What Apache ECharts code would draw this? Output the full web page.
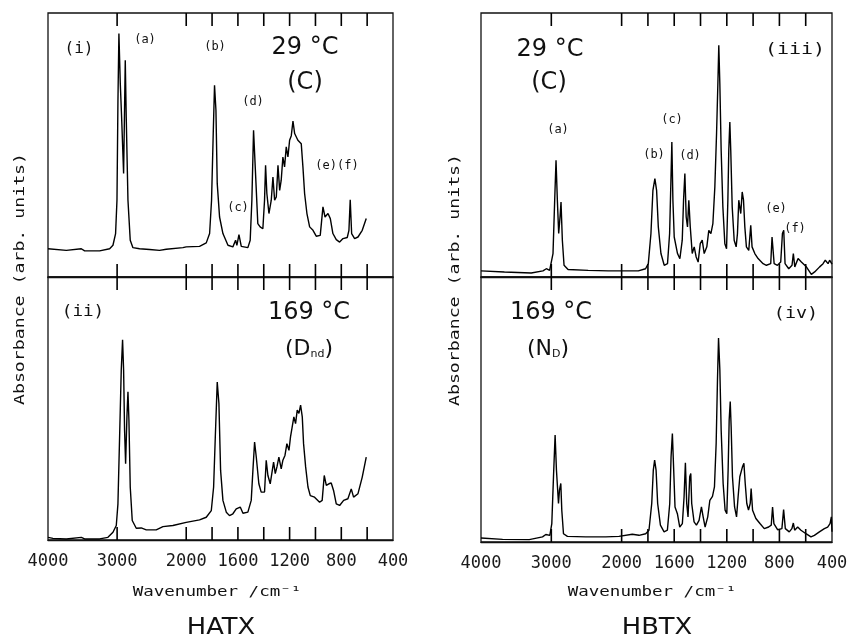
<!DOCTYPE html>
<html>
<head>
<meta charset="utf-8">
<script src="https://cdn.jsdelivr.net/npm/echarts@6/dist/echarts.min.js"></script>
<style>html,body{margin:0;padding:0;background:#fff}#c{width:851px;height:639px}</style>
</head>
<body>
<div id="c"></div>
<script>
// ---- data (wavenumber /cm-1, absorbance arb. units) ----
const iW = [4000,3735,3518,3470,3253,3108,3060,3022,3002,2988,2974,2954,2935,2906,2882,2868,2843,2810,2771,2675,2530,2386,2289,2048,2000,1897,1845,1819,1804,1791,1781,1770,1760,1742,1716,1677,1639,1618,1608,1592,1574,1523,1505,1492,1479,1466,1446,1428,1407,1394,1386,1376,1360,1342,1329,1316,1303,1290,1277,1265,1252,1239,1226,1213,1200,1187,1174,1161,1148,1136,1123,1110,1097,1084,1066,1045,1019,994,963,942,926,903,885,865,839,813,787,754,741,731,720,697,671,638,607];
const iA = [10.6,10,10.6,9.8,9.8,10.6,11.9,16.3,28.8,66,91.3,72.5,60,38.8,81.3,60,28.8,13.8,11,10.6,10.3,10,10.4,11,11.3,11.5,12.8,16.3,28.8,53.8,71.9,62.5,35,22.5,16.3,11.9,11.3,13.8,11.9,15.9,11.5,11,13.8,28.8,55,41.3,20,18.8,18.1,28.8,41.9,31.3,23.8,28.8,37.5,28.8,30,41.9,32.5,36.3,45,41.3,48.8,45,51.3,53,58.5,53.8,54.4,51.3,50.6,50,41.3,31.3,23.8,18.8,17.5,15.3,15.6,26.3,22.5,23.8,21.9,16.3,14,13.1,14.4,14.8,17.5,29,16.3,14.4,15,17.5,21.9];

const iiW = [4000,3928,3735,3518,3470,3253,3133,3060,3012,2988,2964,2940,2921,2906,2892,2877,2858,2843,2829,2810,2781,2723,2651,2578,2434,2337,2193,2000,1897,1845,1806,1788,1775,1760,1747,1734,1716,1690,1665,1639,1613,1600,1582,1561,1523,1497,1484,1471,1458,1438,1420,1394,1381,1368,1350,1334,1324,1311,1298,1283,1265,1252,1236,1221,1205,1193,1180,1167,1154,1141,1128,1115,1102,1092,1076,1058,1040,1007,968,948,932,916,896,878,860,839,813,782,749,723,705,671,638,607];
const iiA = [1,0.6,0.4,1,0.4,0.4,1,2.9,5.4,13.5,38.5,63.5,74.8,63.5,41,28.5,46,55.4,44.8,19.8,7.3,4.4,4.5,3.8,3.8,5,5.4,6.6,7.5,8.5,11,19.8,38.5,59,51,26,14.8,10.4,9.1,9.8,11.6,11,12.3,10,10.4,14.8,26,36.6,31,21,17.9,17.9,29.8,24.1,21,26,29.1,24.8,27.3,31,26.6,29.8,31.6,36,33.5,38.5,42.3,46,43.5,48.5,47.3,50.4,46,36,27.3,19.8,16.6,16,14.1,14.8,24.1,20.4,21,21.3,18.5,13.5,12.9,14.8,15.4,19.1,16,17.3,23.5,31];

const iiiW = [4000,3667,3286,3119,3071,3024,2976,2952,2933,2914,2895,2876,2862,2843,2819,2762,2476,2190,2000,1873,1818,1797,1777,1762,1747,1734,1721,1701,1676,1651,1635,1625,1618,1610,1600,1587,1575,1557,1539,1529,1519,1509,1499,1489,1478,1463,1448,1433,1418,1402,1387,1372,1352,1337,1321,1306,1291,1278,1268,1261,1253,1243,1230,1215,1202,1192,1185,1177,1170,1159,1144,1129,1119,1109,1101,1094,1083,1073,1063,1051,1033,1018,1008,987,962,924,899,866,856,848,840,815,790,777,767,757,729,704,694,683,658,633,595,557,532,494,468,451,430,418,400];
const iiiA = [2.3,1.9,1.5,2.3,3.1,2.5,8.8,28.8,43.8,28.8,16.3,22.5,28.1,13.8,4.4,2.8,2.5,2.3,2.3,2.3,3.1,5,16.3,32.5,36.9,32.5,18.8,8.8,4.4,5,16.3,36.3,50.6,28.8,15,15.6,8.8,6.9,13.8,28.8,38.8,22.5,18.8,28.8,18.8,8.8,11.3,7.5,5.6,12.5,13.8,8.8,11.3,17.5,16.3,20,33.8,53.8,72.5,86.9,72.5,47.5,26.3,12.5,10.6,28.8,47.5,58.1,47.5,26.3,13.8,11.3,16.3,28.8,29.4,23.8,31.9,28.8,18.8,11.3,10,19.4,11.3,8.8,6.9,5,4.4,5,15,15.6,5,4.4,5.6,16.3,17.5,5,3.1,4.4,8.8,3.8,6.9,5.6,3.8,1,1.9,3.8,5,6.3,5,6.3,4.8];

const ivW = [4000,3693,3314,3125,3078,3021,2993,2969,2946,2927,2898,2884,2865,2851,2827,2771,2511,2227,2038,1919,1868,1817,1792,1771,1759,1749,1738,1726,1705,1677,1652,1634,1624,1614,1604,1594,1576,1558,1538,1525,1515,1505,1495,1482,1474,1467,1449,1431,1411,1393,1380,1365,1345,1329,1309,1294,1281,1271,1263,1253,1243,1228,1213,1200,1190,1182,1174,1167,1157,1141,1126,1114,1101,1091,1081,1070,1060,1048,1035,1022,1015,1004,979,948,915,882,862,852,842,814,781,768,755,725,705,694,684,661,636,598,560,534,496,458,433,415,405,400];
const ivA = [1.5,1,0.9,1.9,2.8,2.5,6.9,24.4,40,26.9,14.4,19.4,21.9,11.9,3.1,2.1,1.9,1.9,2.1,2.9,2.5,3.1,4.4,14.4,26.9,30.6,26.9,14.4,6.3,3.8,4.4,14.4,31.9,40.6,26.9,13.1,10.6,5.6,6.9,16.9,29.6,14.4,9.4,24.4,25.6,14.4,7.5,6.3,8.1,13.1,9.4,5.6,9.4,15.6,17.1,20.6,36.9,60.6,76.3,64.4,41.9,21.9,11.9,10.6,26.9,45.6,52.5,43.1,24.4,13.1,9.4,16.9,24.4,23.8,28.1,29.4,21.9,14.4,11.9,14.4,20,11.9,8.8,6.9,5,5.6,6.3,13.1,6.9,4.6,5,12.1,5,3.8,5,7.1,4.4,5.6,4.4,3.1,1.9,2.5,3.8,5,5.6,6.9,9.4,3.8];

const tickWavenumbers = [3000,2000,1800,1600,1400,1200,1000,800,600];
const labelWavenumbers = [4000,3000,2000,1600,1200,800,400];

// ---- scale: abscissa expanded by K below 2000 cm-1 ----
const K = 1.87;
function toT(w){ return w >= 2000 ? 4000 - w : 2000 + (2000 - w) * K; }
function fromT(t){ return t <= 2000 ? 4000 - t : 2000 - (t - 2000) / K; }
const TMAX = toT(400);

const panels = [
  {W:iW,   A:iA,   left:48,  top:13,  width:345, height:264, ymax:99,    bottom:false},
  {W:iiW,  A:iiA,  left:48,  top:277, width:345, height:263, ymax:98.25, bottom:true},
  {W:iiiW, A:iiiA, left:481, top:13,  width:351, height:264, ymax:99,    bottom:false},
  {W:ivW,  A:ivA,  left:481, top:277, width:351, height:265, ymax:99.1,  bottom:true}
];

const INK = '#111';
const TICK_PX = 13;
const grids = [], xAxes = [], yAxes = [], series = [];
panels.forEach((p, g) => {
  grids.push({left:p.left, top:p.top, width:p.width, height:p.height, show:true,
    borderColor:INK, borderWidth:1.3, containLabel:false, outerBoundsMode:'none'});
  xAxes.push({
    gridIndex:g, type:'value', min:0, max:TMAX, position:'bottom',
    axisLine:{show:true, lineStyle:{color:INK, width:1.3}},
    axisTick:{show:false},
    axisLabel:{show: p.bottom, customValues:labelWavenumbers.map(toT),
      formatter: v => String(Math.round(fromT(v))), margin:13,
      fontFamily:'DejaVu Sans Mono', fontSize:17, color:'#1a1a1a'},
    splitLine:{show:false}
  });
  yAxes.push({gridIndex:g, type:'value', min:0, max:p.ymax, show:false, splitLine:{show:false}});
  series.push({
    type:'line', xAxisIndex:g, yAxisIndex:g, showSymbol:false, symbol:'none', silent:true,
    lineStyle:{color:'#000', width:1.4}, animation:false,
    data: p.W.map((w, i) => [toT(w), p.A[i]])
  });
});
// inward tick marks on the lower and upper frame edges of every panel
panels.forEach((p, g) => {
  const len = TICK_PX / p.height * p.ymax;
  tickWavenumbers.forEach(w => {
    const t = toT(w);
    series.push({type:'line', xAxisIndex:g, yAxisIndex:g, showSymbol:false, symbol:'none', silent:true,
      clip:false, z:5, lineStyle:{color:'#000', width:1.6}, animation:false, data:[[t, 0], [t, len]]});
    series.push({type:'line', xAxisIndex:g, yAxisIndex:g, showSymbol:false, symbol:'none', silent:true,
      clip:false, z:5, lineStyle:{color:'#000', width:1.6}, animation:false, data:[[t, p.ymax], [t, p.ymax - len]]});
  });
});

function txt(x, y, text, font, extra){
  const e = Object.assign({type:'text', x:x, y:y, silent:true,
    style:{text:text, font:font, fill:INK, align:'center', verticalAlign:'middle',
      textAlign:'center', textVerticalAlign:'middle'}}, extra || {});
  if (extra && extra.rich) { e.style.rich = extra.rich; delete e.rich; }
  return e;
}
const MONO = 'DejaVu Sans Mono';
const SANS = 'DejaVu Sans';
const big = '24px ' + SANS;
const pk = '12px ' + MONO;
const rom = '16px ' + MONO;
const graphics = [
  // left column
  txt(79, 49, '(i)', rom),
  txt(145, 40, '(a)', pk),
  txt(215, 47, '(b)', pk),
  txt(305, 48, '29 °C', big),
  txt(305, 83, '(C)', big),
  txt(253, 102, '(d)', pk),
  txt(238, 208, '(c)', pk),
  txt(337, 166, '(e)(f)', pk),
  txt(83, 312, '(ii)', rom, {scaleX:1.1}),
  txt(309, 313, '169 °C', big),
  txt(309, 349, '(D{s|nd})', '22px ' + SANS, {rich:{s:{fontSize:11, fontFamily:SANS, verticalAlign:'bottom'}}}),
  txt(20, 279, 'Absorbance (arb. units)', '14px ' + MONO, {rotation:Math.PI/2, scaleX:1.3}),
  txt(217, 592, 'Wavenumber /cm⁻¹', '14px ' + MONO, {scaleX:1.25}),
  txt(221, 628, 'HATX', '23px ' + SANS, {scaleX:1.12}),
  // right column
  txt(550, 50, '29 °C', big),
  txt(549, 83, '(C)', big),
  txt(795, 50, '(iii)', rom, {scaleX:1.25}),
  txt(558, 130, '(a)', pk),
  txt(672, 120, '(c)', pk),
  txt(654, 155, '(b)', pk),
  txt(690, 156, '(d)', pk),
  txt(776, 209, '(e)', pk),
  txt(795, 229, '(f)', pk),
  txt(551, 313, '169 °C', big),
  txt(548, 349, '(N{s|D})', '22px ' + SANS, {rich:{s:{fontSize:11, fontFamily:SANS, verticalAlign:'bottom'}}}),
  txt(796, 314, '(iv)', rom, {scaleX:1.15}),
  txt(455, 280, 'Absorbance (arb. units)', '14px ' + MONO, {rotation:Math.PI/2, scaleX:1.3}),
  txt(652, 592, 'Wavenumber /cm⁻¹', '14px ' + MONO, {scaleX:1.25}),
  txt(657, 628, 'HBTX', '23px ' + SANS, {scaleX:1.12})
];

const chart = echarts.init(document.getElementById('c'), null, {renderer:'canvas'});
chart.setOption({
  animation:false,
  backgroundColor:'#fff',
  grid:grids, xAxis:xAxes, yAxis:yAxes, series:series,
  graphic:{elements:graphics}
});
</script>
</body>
</html>
